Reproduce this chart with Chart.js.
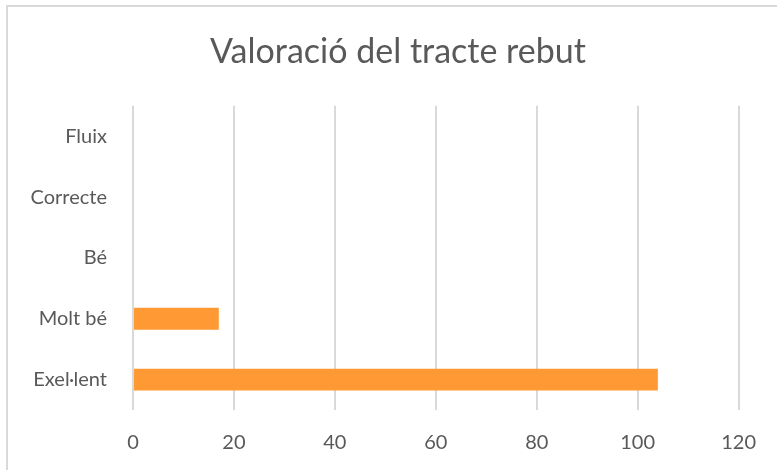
<!DOCTYPE html>
<html>
<head>
<meta charset="utf-8">
<script src="https://cdn.jsdelivr.net/npm/chart.js@4"></script>
<style>
  body { margin: 0; background: #fff; }
  #frame { position: absolute; left: 6px; top: 5px; width: 800px; height: 500px; border: 2px solid #d9d9d9; }
  #wrap { position: absolute; left: 0; top: 0; width: 777px; height: 470px; }
</style>
</head>
<body>
<div id="frame"></div>
<div id="wrap"><canvas id="chart" width="777" height="470"></canvas></div>
<script>
// categories listed top to bottom, as on the chart
const categories = ["Fluix", "Correcte", "Bé", "Molt bé", "Exel·lent"];
const responses = [0, 0, 0, 17, 104];
const xTicks = [0, 20, 40, 60, 80, 100, 120];

const textColor = "#595959";
const gridColor = "#d9d9d9";

const ctx = document.getElementById("chart").getContext("2d");
const chart = new Chart(ctx, {
    type: "bar",
    data: {
        labels: categories,
        datasets: [{
            label: "Valoració",
            data: responses,
            backgroundColor: "#ff9933",
            barPercentage: 0.6,
            categoryPercentage: 0.6
        }]
    },
    options: {
        indexAxis: "y",
        responsive: false,
        animation: false,
        layout: { padding: { left: 19, right: 0, top: 0, bottom: 0 } },
        plugins: {
            legend: { display: false },
            tooltip: { enabled: false },
            title: {
                display: true,
                text: "Valoració del tracte rebut",
                color: textColor,
                font: { family: "Lato", size: 34, weight: "normal" },
                padding: { top: 32, bottom: 33 }
            }
        },
        scales: {
            x: {
                min: xTicks[0],
                max: xTicks[xTicks.length - 1],
                afterBuildTicks: scale => { scale.ticks = xTicks.map(v => ({ value: v })); },
                afterFit: scale => { scale.height = 60; },
                grid: { color: gridColor, lineWidth: 2, drawTicks: false },
                border: { display: false },
                ticks: { color: textColor, padding: 21, font: { family: "Lato", size: 20 } }
            },
            y: {
                afterFit: scale => { scale.width = 114; },
                grid: { display: false },
                border: { display: false },
                ticks: { color: textColor, padding: 18, font: { family: "Lato", size: 20 } }
            },
            // empty margin on the right of the plot
            yRight: {
                type: "category",
                position: "right",
                labels: categories,
                afterFit: scale => { scale.width = 38; },
                grid: { display: false },
                border: { display: false },
                ticks: { display: false }
            }
        }
    }
});
</script>
</body>
</html>
